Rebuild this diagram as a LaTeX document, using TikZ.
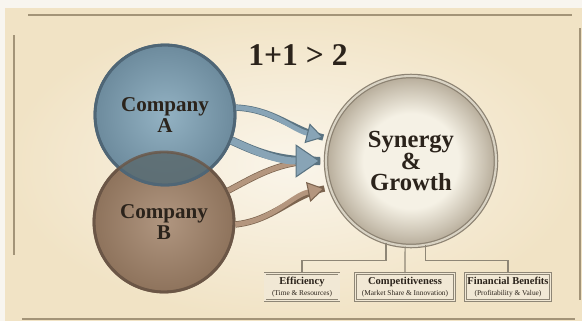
\documentclass[tikz,border=0pt]{standalone}
\usepackage{fontspec}
\setmainfont{Liberation Serif}
\usetikzlibrary{arrows.meta,calc}

\definecolor{rim}{HTML}{F8F5EF}
\definecolor{paper}{HTML}{F1E3C5}
\definecolor{paperlight}{HTML}{FAF5EA}
\definecolor{frameline}{HTML}{A39478}
\definecolor{ink}{HTML}{2B231B}
\definecolor{blueA}{HTML}{93B2C3}
\definecolor{blueAdark}{HTML}{6D8B9D}
\definecolor{blueline}{HTML}{4F6676}
\definecolor{brownB}{HTML}{B09680}
\definecolor{brownBdark}{HTML}{8E735C}
\definecolor{brownline}{HTML}{6B5646}
\definecolor{overlap}{HTML}{5B6A6E}
\definecolor{synin}{HTML}{F5F1E5}
\definecolor{synout}{HTML}{B0A592}
\definecolor{synline}{HTML}{8C8272}
\definecolor{arrblue}{HTML}{88A4B6}
\definecolor{arrbluedark}{HTML}{5A7381}
\definecolor{arrbrown}{HTML}{B4967E}
\definecolor{arrbrowndark}{HTML}{7C644F}
\definecolor{boxfill}{HTML}{F1E8D5}
\definecolor{boxline}{HTML}{8E8676}

\pgfdeclareradialshading{synshade}{\pgfpoint{0bp}{0bp}}{color(0bp)=(synin); color(14bp)=(synin); color(22bp)=(synout!65!synin); color(26bp)=(synout); color(50bp)=(synout)}

\newcommand\benefitnote[1]{{\fontsize{4.2}{5}\selectfont\mdseries #1}}

\tikzset{
    frame/.style={draw=frameline, line width=0.9pt},
    company/.style={circle, minimum size=2.8cm, line width=1.6pt, align=center,
        text=ink, font=\fontsize{12}{12}\selectfont\bfseries},
    synergy/.style={circle, minimum size=3.4cm, shading=synshade, draw=synline,
        line width=0.7pt, double=synin!60!synout, double distance=1.2pt,
        align=center, text=ink, font=\fontsize{14}{12.5}\selectfont\bfseries},
    headline/.style={text=ink, font=\fontsize{18}{18}\selectfont\bfseries},
    flowblue/.style={draw=arrblue, line width=2.8pt, shorten >=3pt,
        preaction={draw=arrbluedark, line width=3.6pt, -},
        -{Triangle[length=9.5pt, width=11.5pt, line width=0.6pt, color=arrbluedark, fill=arrblue]}},
    flowbrown/.style={draw=arrbrown, line width=2.8pt, shorten >=3pt,
        preaction={draw=arrbrowndark, line width=3.6pt, -},
        -{Triangle[length=9.5pt, width=11.5pt, line width=0.6pt, color=arrbrowndark, fill=arrbrown]}},
    branch/.style={draw=boxline, line width=0.6pt},
    benefit/.style={draw=boxline, double=boxfill, double distance=0.8pt,
        fill=boxfill, minimum height=0.54cm, inner sep=1pt, align=center,
        text=ink, font=\fontsize{6}{6.5}\selectfont\bfseries}
}

\begin{document}
\begin{tikzpicture}[x=0.02cm,y=-0.02cm]
    \useasboundingbox (0,0) rectangle (582,321);
    % parchment
    \fill[rim] (0,0) rectangle (582,321);
    \shade[inner color=paperlight, outer color=paper] (5,8) rectangle (582,321);
    \draw[frame] (28,15) -- (572,15);
    \draw[frame] (580,28) -- (580,300);
    \draw[frame, line width=0.6pt] (14,35) -- (14,255);
    \draw[frame] (22,319) -- (575,319);

    \node[headline] (gain) at (298,55) {1+1 > 2};

    % the two companies
    \node[company, shade, inner color=brownB, outer color=brownBdark, draw=brownline] (compB) at (164,222) {Company\\B};
    \node[company, shade, inner color=blueA, outer color=blueAdark, draw=blueline] (compA) at (165,115) {Company\\A};
    \begin{scope}
        \clip (compA.center) circle (1.4cm);
        \fill[overlap, opacity=0.85] (compB.center) circle (1.4cm);
    \end{scope}
    \draw[blueline, line width=1.6pt] (compA.center) circle (1.4cm);
    \draw[brownline, line width=1.6pt, opacity=0.8] (compB.center) circle (1.4cm);

    \node[synergy] (syn) at (411,161) {Synergy\\\&\\Growth};

    % arrows
    \draw[flowblue] (compA.6) .. controls +(38,2) and +(-38,-10) .. (syn.165);
    \draw[flowbrown, -] (compB.26) .. controls +(30,-16) and +(-45,0) .. (syn.180);
    \draw[flowblue, line width=4pt, preaction={draw=arrbluedark, line width=4.8pt, -},
        -{Triangle[length=14pt, width=19pt, line width=0.6pt, color=arrbluedark, fill=arrblue]}]
        (compA.-21) .. controls +(30,14) and +(-45,0) .. (syn.180);
    \draw[flowbrown] (compB.-2) .. controls +(38,-4) and +(-38,8) .. (syn.198);

    % benefits
    \node[benefit, minimum width=1.48cm] (eff) at (302,287) {Efficiency\\\benefitnote{(Time \& Resources)}};
    \node[benefit, minimum width=1.98cm] (comp) at (405,287) {Competitiveness\\\benefitnote{(Market Share \& Innovation)}};
    \node[benefit, minimum width=1.68cm] (fin) at (508,287) {Financial Benefits\\\benefitnote{(Profitability \& Value)}};

    \draw[branch] (syn.-107) |- ($(eff.north)+(0,-13)$) -- (eff.north);
    \draw[branch] (syn.-94) -- (comp.north);
    \draw[branch] (syn.-80) |- ($(fin.north)+(0,-13)$) -- (fin.north);
\end{tikzpicture}
\end{document}
